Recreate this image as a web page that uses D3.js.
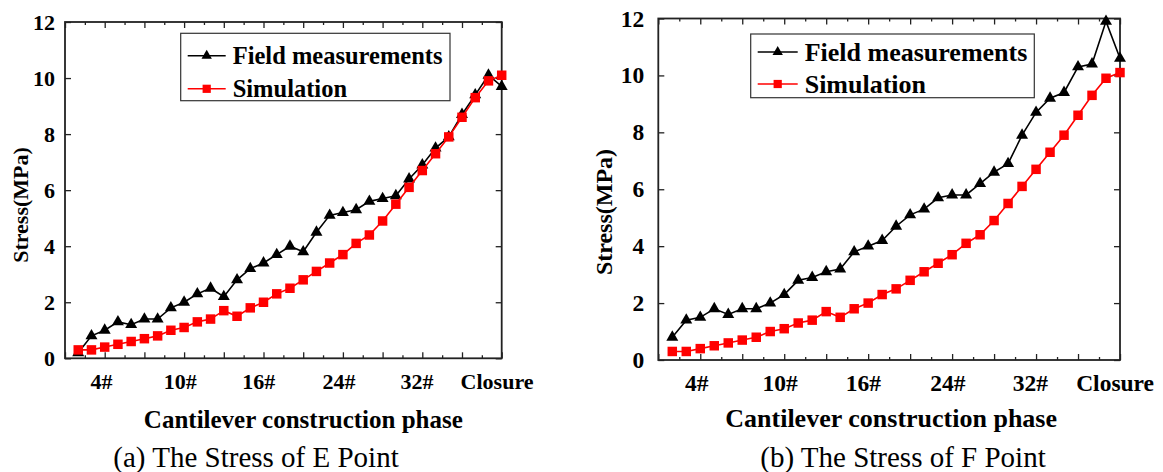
<!DOCTYPE html>
<html>
<head>
<meta charset="utf-8">
<script src="https://cdn.jsdelivr.net/npm/d3@7"></script>
<style>
  body { margin: 0; background: #fff; }
  svg { display: block; }
  text { font-family: "Liberation Serif", "Times New Roman", serif; }
</style>
</head>
<body>
<svg width="1163" height="472"></svg>
<script>
// data
var stages = [1,2,3,4,5,6,7,8,9,10,11,12,13,14,15,16,17,18,19,20,21,22,23,24,25,26,27,28,29,30,31,32,33];
var xLabels = ["4#", "10#", "16#", "24#", "32#", "Closure"];
var xLabelPos = [2.75, 8.7, 14.65, 20.7, 26.6, 32.65];
var yTicks = [0, 2, 4, 6, 8, 10, 12];

var fieldE = [0.2,0.8,1.0,1.3,1.2,1.4,1.4,1.8,2.0,2.3,2.5,2.2,2.8,3.2,3.4,3.7,4.0,3.8,4.5,5.1,5.2,5.3,5.6,5.7,5.8,6.4,6.9,7.5,7.9,8.7,9.4,10.1,9.7];
var simE   = [0.3,0.3,0.4,0.5,0.6,0.7,0.8,1.0,1.1,1.3,1.4,1.7,1.5,1.8,2.0,2.3,2.5,2.8,3.1,3.4,3.7,4.1,4.4,4.9,5.5,6.1,6.7,7.3,7.9,8.6,9.3,9.9,10.1];
var fieldF = [0.8,1.4,1.5,1.8,1.6,1.8,1.8,2.0,2.3,2.8,2.9,3.1,3.2,3.8,4.0,4.2,4.7,5.1,5.3,5.7,5.8,5.8,6.2,6.6,6.9,7.9,8.7,9.2,9.4,10.3,10.4,11.9,10.6];
var simF   = [0.3,0.3,0.4,0.5,0.6,0.7,0.8,1.0,1.1,1.3,1.4,1.7,1.5,1.8,2.0,2.3,2.5,2.8,3.1,3.4,3.7,4.1,4.4,4.9,5.5,6.1,6.7,7.3,7.9,8.6,9.3,9.9,10.1];

var seriesNames = ["Field measurements", "Simulation"];

var svg = d3.select("svg");

function panel(o) {
  var x = d3.scaleLinear().domain([0, 33]).range([o.left, o.right]);
  var y = d3.scaleLinear().domain([0, 12]).range([o.bottom, o.top]);
  var g = svg.append("g");
  var frame = "#222";

  var major = d3.range(0, 34, 3), minor = d3.range(1.5, 33, 3);

  // bottom / top axes, ticks inward
  [[d3.axisBottom, o.bottom, -6, major], [d3.axisBottom, o.bottom, -3, minor],
   [d3.axisTop, o.top, -6, major], [d3.axisTop, o.top, -3, minor]].forEach(function(a) {
    g.append("g").attr("transform", "translate(0," + a[1] + ")")
      .call(a[0](x).tickValues(a[3]).tickSize(a[2]).tickFormat(""))
      .call(function(s) {
        s.select(".domain").remove();
        s.selectAll("line").attr("stroke", frame).attr("stroke-width", 1.3);
      });
  });

  // left axis with labels
  g.append("g").attr("transform", "translate(" + o.left + ",0)")
    .call(d3.axisLeft(y).tickValues(yTicks).tickSize(-6).tickPadding(o.yPad))
    .call(function(s) {
      s.attr("font-family", null).attr("font-size", null);
      s.select(".domain").remove();
      s.selectAll("line").attr("stroke", frame).attr("stroke-width", 1.3);
      s.selectAll("text")
        .style("font-size", o.tickFs + "px").style("font-weight", "bold")
        .style("font-family", "'Liberation Serif', 'Times New Roman', serif")
        .attr("fill", "#000");
    });
  g.append("g").attr("transform", "translate(" + o.right + ",0)")
    .call(d3.axisRight(y).tickValues(yTicks).tickSize(-6).tickFormat(""))
    .call(function(s) {
      s.select(".domain").remove();
      s.selectAll("line").attr("stroke", frame).attr("stroke-width", 1.3);
    });

  // frame
  g.append("rect").attr("x", o.left).attr("y", o.top)
    .attr("width", o.right - o.left).attr("height", o.bottom - o.top)
    .attr("fill", "none").attr("stroke", frame).attr("stroke-width", 1.8);

  // x labels
  g.selectAll(".xl").data(xLabels).enter().append("text")
    .attr("x", function(d, i) { return x(xLabelPos[i]); })
    .attr("y", o.xLabY)
    .attr("text-anchor", "middle").attr("font-weight", "bold")
    .attr("font-size", o.tickFs)
    .text(function(d) { return d; });

  // axis titles
  g.append("text").attr("x", (o.left + o.right) / 2 - o.titleShift).attr("y", o.titleY)
    .attr("text-anchor", "middle").attr("font-weight", "bold").attr("font-size", o.titleFs)
    .text("Cantilever construction phase");
  g.append("text")
    .attr("transform", "translate(" + o.yTitleX + "," + o.yTitleY + ") rotate(-90)")
    .attr("text-anchor", "middle").attr("font-weight", "bold").attr("font-size", o.yTitleFs)
    .text("Stress(MPa)");
  g.append("text").attr("x", o.capX).attr("y", o.capY)
    .attr("text-anchor", "middle").attr("font-size", o.capFs)
    .text(o.caption);

  // series
  var line = d3.line().x(function(d, i) { return x(stages[i]); }).y(function(d) { return y(d); });
  var series = [
    { vals: o.field, color: "#000", sym: d3.symbolTriangle, size: 62 },
    { vals: o.sim, color: "#ff0000", sym: d3.symbolSquare, size: 90 }
  ];
  series.forEach(function(s) {
    g.append("path").datum(s.vals).attr("d", line)
      .attr("fill", "none").attr("stroke", s.color).attr("stroke-width", 1.6);
    g.selectAll(null).data(s.vals).enter().append("path")
      .attr("transform", function(d, i) { return "translate(" + x(stages[i]) + "," + y(d) + ")"; })
      .attr("d", d3.symbol().type(s.sym).size(s.size))
      .attr("fill", s.color);
  });

  // legend
  var L = o.legend;
  g.append("rect").attr("x", L.x).attr("y", L.y).attr("width", L.w).attr("height", L.h)
    .attr("fill", "#fff").attr("stroke", "#333").attr("stroke-width", 1.2);
  series.forEach(function(s, i) {
    var cy = L.y + L.row0 + i * L.rowGap;
    g.append("line").attr("x1", L.x + 7).attr("x2", L.x + 7 + L.lineW)
      .attr("y1", cy).attr("y2", cy).attr("stroke", s.color).attr("stroke-width", 1.6);
    g.append("path").attr("transform", "translate(" + (L.x + 7 + L.lineW / 2) + "," + cy + ")")
      .attr("d", d3.symbol().type(s.sym).size(s.size * 0.75)).attr("fill", s.color);
    g.append("text").attr("x", L.x + 7 + L.lineW + 7).attr("y", cy + L.fs * 0.33)
      .attr("font-weight", "bold").attr("font-size", L.fs)
      .text(seriesNames[i]);
  });
}

panel({
  left: 65, right: 501.7, top: 22, bottom: 358.3,
  field: fieldE, sim: simE,
  tickFs: 22, yPad: 10, xLabY: 389,
  titleFs: 25, titleY: 428, titleShift: -20,
  yTitleX: 28, yTitleY: 205, yTitleFs: 22,
  capX: 256, capY: 467, capFs: 29, caption: "(a) The Stress of E Point",
  legend: { x: 180.7, y: 33.3, w: 269.3, h: 67.4, row0: 22.5, rowGap: 33, lineW: 38, fs: 24.5 }
});

panel({
  left: 658.3, right: 1120, top: 18.5, bottom: 360,
  field: fieldF, sim: simF,
  tickFs: 23.5, yPad: 14, xLabY: 391,
  titleFs: 26, titleY: 427, titleShift: -2,
  yTitleX: 612, yTitleY: 212, yTitleFs: 24,
  capX: 903, capY: 467, capFs: 29, caption: "(b) The Stress of F Point",
  legend: { x: 750.7, y: 34, w: 283.6, h: 63.7, row0: 18, rowGap: 32, lineW: 40, fs: 26 }
});
</script>
</body>
</html>
